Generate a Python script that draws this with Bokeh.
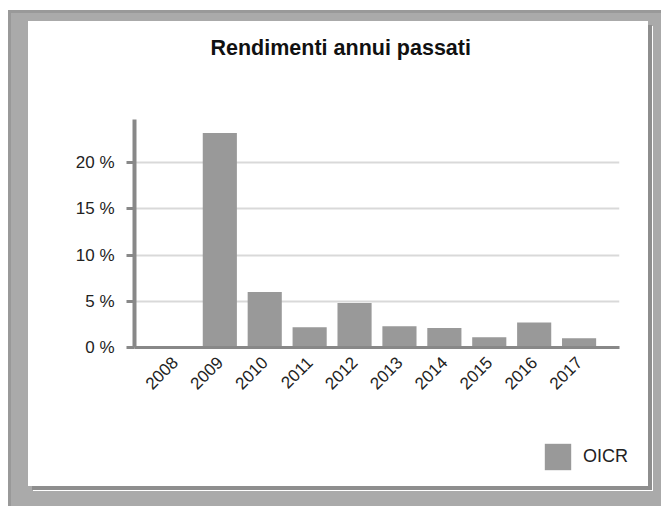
import math
from bokeh.plotting import figure
from bokeh.models import (FactorRange, Range1d, ColumnDataSource, Legend, LegendItem,
                          PrintfTickFormatter, FixedTicker)
from bokeh.layouts import column
from bokeh.embed import file_html
from bokeh.resources import INLINE

# ---- data ----
years = ["2008", "2009", "2010", "2011", "2012", "2013", "2014", "2015", "2016", "2017"]
returns = [0.0, 23.2, 6.0, 2.2, 4.8, 2.3, 2.1, 1.1, 2.7, 1.0]
y_ticks = [0, 5, 10, 15, 20]
series_name = "OICR"
chart_title = "Rendimenti annui passati"

FONT = "Liberation Sans"
BAR = "#999999"
AXIS = "#888888"

source = ColumnDataSource(dict(year=years, value=returns))


def strip(height):
    f = figure(width=620, height=height, output_backend="svg", toolbar_location=None,
               min_border=0, x_axis_type=None, y_axis_type=None,
               background_fill_color="white", border_fill_color="white",
               outline_line_color=None, styles={"background-color": "white"})
    return f


# ---- title strip ----
tf = strip(60)
tf.title.text = chart_title
tf.title.align = "left"
tf.title.offset = 182
tf.title.vertical_align = "top"
tf.title.standoff = 28
tf.title.text_font = FONT
tf.title.text_font_size = "21.5px"
tf.title.text_font_style = "bold"
tf.title.text_color = "#111111"

# ---- main chart ----
p = figure(x_range=FactorRange(factors=years, range_padding=0.08),
           y_range=Range1d(0, 24.66),
           width=620, height=339, output_backend="svg", toolbar_location=None,
           min_border_left=106, min_border_right=29, min_border_top=38, min_border_bottom=73,
           background_fill_color="white", border_fill_color="white",
           outline_line_color=None, styles={"background-color": "white"})

r = p.vbar(x="year", top="value", width=0.76, source=source,
           fill_color=BAR, line_color=None)

# y axis
yax = p.yaxis[0]
yax.ticker = FixedTicker(ticks=y_ticks)
yax.formatter = PrintfTickFormatter(format="%d %%")
yax.axis_line_color = AXIS
yax.axis_line_width = 4
yax.major_tick_line_color = AXIS
yax.major_tick_line_width = 3
yax.major_tick_out = 8
yax.major_tick_in = 0
yax.minor_tick_line_color = None
yax.major_label_standoff = 12
yax.major_label_text_font = FONT
yax.major_label_text_font_size = "17px"
yax.major_label_text_color = "#222222"

# x axis
xax = p.xaxis[0]
xax.axis_line_color = AXIS
xax.axis_line_width = 3
xax.major_tick_line_color = None
xax.minor_tick_line_color = None
xax.major_label_orientation = math.pi / 4
xax.major_label_standoff = 6
xax.major_label_text_font = FONT
xax.major_label_text_font_size = "17px"
xax.major_label_text_color = "#222222"

# grid
p.xgrid.grid_line_color = None
p.ygrid.ticker = FixedTicker(ticks=y_ticks)
p.ygrid.grid_line_color = "#d9d9d9"
p.ygrid.grid_line_width = 2

# ---- legend strip (its own small figure so the legend is not clipped) ----
lf = figure(x_range=FactorRange(factors=years), y_range=Range1d(100, 101),
            width=620, height=66, output_backend="svg", toolbar_location=None,
            min_border=0, x_axis_type=None, y_axis_type=None,
            background_fill_color="white", border_fill_color="white",
            outline_line_color=None, styles={"background-color": "white"})
lf.xgrid.grid_line_color = None
lf.ygrid.grid_line_color = None
lr = lf.vbar(x="year", top="value", width=0.76, source=source,
             fill_color=BAR, line_color=None)

aligned = True
if "frame_align" in lf.properties():
    for f in (tf, p, lf):
        f.frame_align = False
    aligned = False

legend = Legend(items=[LegendItem(label=series_name, renderers=[lr])],
                location=((407 if aligned else 513), 13), orientation="vertical",
                padding=0, margin=0, border_line_color=None, background_fill_alpha=0,
                glyph_width=33, glyph_height=33, label_standoff=9, label_height=33,
                label_text_font=FONT, label_text_font_size="18px", label_text_color="#222222")
lf.add_layout(legend, "center")

panel = column(tf, p, lf, spacing=0,
               styles={"box-shadow": "4px 4px 0 0 #8e8e8e, 5px 5px 0 0 #ffffff"})

layout = column(panel, styles={
    "background-color": "#aaaaaa",
    "border-top": "3px solid #999999",
    "border-left": "3px solid #999999",
    "padding": "8px 13px 20px 17px",
    "position": "relative",
    "left": "8px",
    "top": "10px",
})

open("out.html", "w").write(file_html(layout, INLINE))
